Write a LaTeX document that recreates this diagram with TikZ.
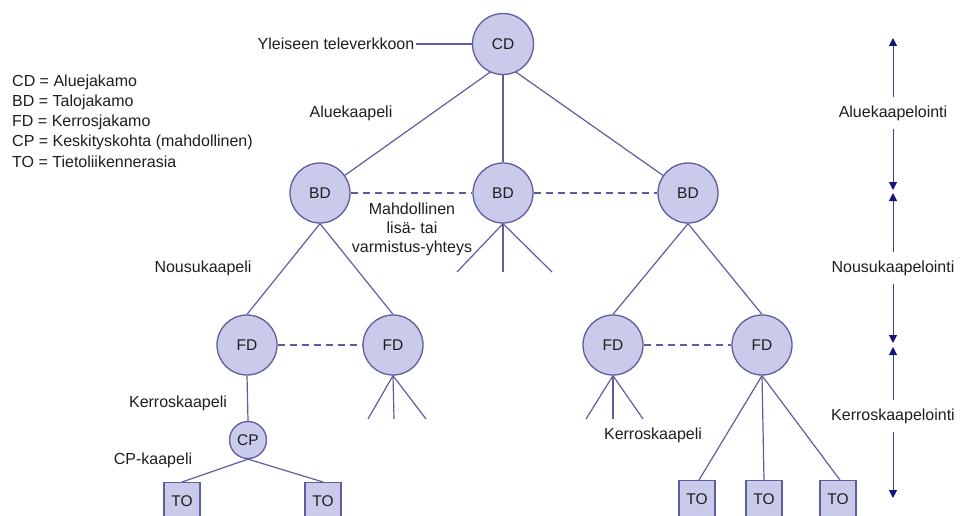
\documentclass[tikz,border=0pt]{standalone}
\usepackage{fontspec}
\setmainfont{Liberation Sans}
\usetikzlibrary{arrows.meta,backgrounds}
\definecolor{edgec}{HTML}{5E5E9E}
\definecolor{fillc}{HTML}{CACAEB}
\definecolor{navyc}{HTML}{14147E}
\definecolor{arrline}{HTML}{40408E}
\definecolor{txtc}{HTML}{1E1E1E}
\begin{document}
\begin{tikzpicture}[x=1pt,y=-1pt,
  circ/.style={circle,draw=edgec,fill=fillc,line width=1.3pt,minimum size=60pt,inner sep=0pt,
    font=\fontsize{15.5}{18}\selectfont,text=txtc},
  smallcirc/.style={circ,minimum size=37pt},
  tobox/.style={rectangle,draw=edgec,fill=fillc,line width=1.3pt,minimum width=36pt,
    minimum height=38pt,anchor=north,inner sep=0pt,font=\fontsize{15.5}{18}\selectfont,text=txtc},
  lbl/.style={font=\fontsize{16}{19}\selectfont,text=txtc,inner sep=2pt},
  sidelbl/.style={lbl,inner xsep=2pt,inner ysep=8.5pt},
  wire/.style={draw=edgec,line width=1.2pt},
  dashwire/.style={wire,dash pattern=on 7pt off 5pt},
  arr/.style={draw=arrline,line width=1pt,-{Triangle[length=8pt,width=8pt,fill=navyc,color=navyc]}}
]
\useasboundingbox (0,0) rectangle (960,516);

% nodes
\node[circ,minimum size=61pt] (CD) at (503,44) {CD};
\node[circ] (BDl) at (320,193) {BD};
\node[circ] (BDm) at (503,193) {BD};
\node[circ] (BDr) at (688,193) {BD};
\node[circ] (FDa) at (247,345) {FD};
\node[circ] (FDb) at (393,345) {FD};
\node[circ] (FDc) at (613,345) {FD};
\node[circ] (FDd) at (762,345) {FD};
\node[smallcirc] (CP) at (248,440) {CP};
\node[tobox] (TOa) at (182,482) {TO};
\node[tobox] (TOb) at (323,482) {TO};
\node[tobox] (TOc) at (697,480) {TO};
\node[tobox] (TOd) at (764,480) {TO};
\node[tobox] (TOe) at (838,480) {TO};

% labels
\node[lbl] (yl) at (336,44) {Yleiseen televerkkoon};
\node[lbl] (alk) at (351,113) {Aluekaapeli};
\node[lbl] (nsk) at (203,268) {Nousukaapeli};
\node[lbl] (krl) at (178,403) {Kerroskaapeli};
\node[lbl] (cpk) at (153,460) {CP-kaapeli};
\node[lbl] (krr) at (653,435) {Kerroskaapeli};
\node[lbl,align=center,font=\fontsize{16}{19}\selectfont] (mah) at (412,229) {Mahdollinen\\lisä- tai\\varmistus-yhteys};

\node[lbl,anchor=west] (lg1) at (10,82) {CD = Aluejakamo};
\node[lbl,anchor=west] (lg2) at (10,102) {BD = Talojakamo};
\node[lbl,anchor=west] (lg3) at (10,122) {FD = Kerrosjakamo};
\node[lbl,anchor=west] (lg4) at (10,142) {CP = Keskityskohta (mahdollinen)};
\node[lbl,anchor=west] (lg5) at (10,162) {TO = Tietoliikennerasia};

\node[sidelbl] (L1) at (893,113) {Aluekaapelointi};
\node[sidelbl] (L2) at (893,268) {Nousukaapelointi};
\node[sidelbl] (L3) at (893,416) {Kerroskaapelointi};

% free ends
\coordinate (hub) at (503,63);
\coordinate (m1) at (457,272);
\coordinate (m2) at (503,272);
\coordinate (m3) at (552,272);
\coordinate (b1) at (368,419);
\coordinate (b2) at (394,419);
\coordinate (b3) at (426,419);
\coordinate (c1) at (586,419);
\coordinate (c2) at (613,419);
\coordinate (c3) at (643,419);
\coordinate (t1) at (893,38);
\coordinate (t2) at (893,190);
\coordinate (t3) at (893,193);
\coordinate (t4) at (893,343);
\coordinate (t5) at (893,347);
\coordinate (t6) at (893,498);

\begin{scope}[on background layer]
  \draw[wire] (hub) -- (BDl.center);
  \draw[wire] (hub) -- (BDr.center);
\end{scope}

% connectors
\draw[wire] (yl.east) -- (CD.west);
\draw[wire] (CD.south) -- (BDm.north);
\draw[wire] (BDl.south) -- (FDa.north);
\draw[wire] (BDl.south) -- (FDb.north);
\draw[wire] (BDr.south) -- (FDc.north);
\draw[wire] (BDr.south) -- (FDd.north);
\draw[wire] (BDm.south) -- (m1);
\draw[wire] (BDm.south) -- (m2);
\draw[wire] (BDm.south) -- (m3);
\draw[wire] (FDb.south) -- (b1);
\draw[wire] (FDb.south) -- (b2);
\draw[wire] (FDb.south) -- (b3);
\draw[wire] (FDc.south) -- (c1);
\draw[wire] (FDc.south) -- (c2);
\draw[wire] (FDc.south) -- (c3);
\draw[wire] (FDa.south) -- (CP.north);
\draw[wire] (CP.south) -- (TOa.north);
\draw[wire] (CP.south) -- (TOb.north);
\draw[wire] (FDd.south) -- ([xshift=2pt]TOc.north);
\draw[wire] (FDd.south) -- (TOd.north);
\draw[wire] (FDd.south) -- ([xshift=2pt]TOe.north);

\draw[dashwire] (BDl) -- (BDm);
\draw[dashwire] (BDm) -- (BDr);
\draw[dashwire] (FDa) -- (FDb);
\draw[dashwire] (FDc) -- (FDd);

% side arrows
\draw[arr] (L1.north) -- (t1);
\draw[arr] (L1.south) -- (t2);
\draw[arr] (L2.north) -- (t3);
\draw[arr] (L2.south) -- (t4);
\draw[arr] (L3.north) -- (t5);
\draw[arr] (L3.south) -- (t6);
\end{tikzpicture}
\end{document}
